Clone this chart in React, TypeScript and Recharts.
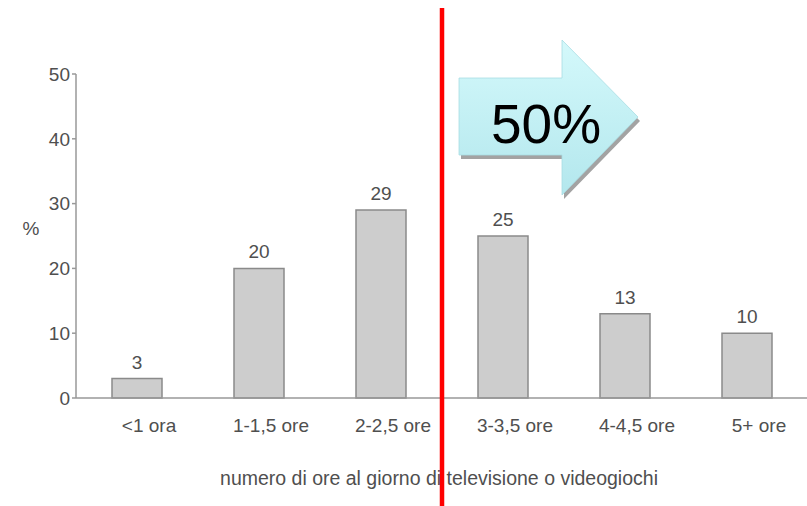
import React from 'react';
import { BarChart, Bar, XAxis, YAxis, LabelList } from 'recharts';

// Share of children by daily hours spent on television or video games
const categories = ['<1 ora', '1-1,5 ore', '2-2,5 ore', '3-3,5 ore', '4-4,5 ore', '5+ ore'];
const percentages = [3, 20, 29, 25, 13, 10];
const yTicks = [0, 10, 20, 30, 40, 50];
const xTitle = 'numero di ore al giorno di televisione o videogiochi';
const yTitle = '%';
const calloutText = '50%';

const data = categories.map((category, i) => ({ category, value: percentages[i] }));

const FONT = '"Liberation Sans", Arial, Helvetica, sans-serif';
const TEXT_GRAY = '#4f4f4f';
const AXIS_GRAY = '#999999';

const CategoryTick = (props: any) => {
  const { x, y, payload } = props;
  return (
    <text x={x + 12} y={y} dy={14} textAnchor="middle" fill={TEXT_GRAY} fontSize={19} fontFamily={FONT}>
      {payload.value}
    </text>
  );
};

const XTitle = (props: any) => {
  const vb = props.viewBox || {};
  return (
    <text x={vb.x + vb.width / 2 - 3} y={vb.y + vb.height + 57} textAnchor="middle" fill={TEXT_GRAY} fontSize={19.5} fontFamily={FONT}>
      {xTitle}
    </text>
  );
};

const YTitle = (props: any) => {
  const vb = props.viewBox || {};
  return (
    <text x={vb.x + 31} y={vb.y + vb.height / 2 - 1} textAnchor="middle" fill={TEXT_GRAY} fontSize={19} fontFamily={FONT}>
      {yTitle}
    </text>
  );
};

// Callout arrow and divider drawn on top of the chart
const Overlay = () => (
  <svg width={807} height={506} style={{ position: 'absolute', left: 0, top: 0, pointerEvents: 'none' }}>
    <defs>
      <linearGradient id="arrowFill" x1="0" y1="0" x2="0" y2="1">
        <stop offset="0%" stopColor="#d4f9fb" />
        <stop offset="100%" stopColor="#b3e7ed" />
      </linearGradient>
    </defs>
    <g transform="translate(2,4)">
      <polygon points="459,78 562,78 562,40 638,117 562,195 562,155 459,155" fill="#a3a3a3" />
    </g>
    <polygon
      points="459,78 562,78 562,40 638,117 562,195 562,155 459,155"
      fill="url(#arrowFill)"
      stroke="#a8dde3"
      strokeWidth={0.8}
    />
    <text x={546} y={143} textAnchor="middle" fontSize={55} fontFamily={FONT} fill="#000000">
      {calloutText}
    </text>
    <line x1={442} y1={8} x2={442} y2={506} stroke="#ff0000" strokeWidth={4.5} />
  </svg>
);

export default function App() {
  return (
    <div style={{ position: 'absolute', left: 0, top: 0, width: 807, height: 506, overflow: 'hidden', background: '#ffffff' }}>
      <BarChart
        width={812}
        height={506}
        data={data}
        margin={{ top: 74, right: 4, bottom: 78, left: 0 }}
        style={{ fontFamily: FONT }}
      >
        <YAxis
          width={76}
          domain={[0, 50]}
          ticks={yTicks}
          interval={0}
          axisLine={{ stroke: AXIS_GRAY, strokeWidth: 1.5 }}
          tickLine={{ stroke: AXIS_GRAY, strokeWidth: 1.5 }}
          tickSize={4}
          tickMargin={2}
          tick={{ fill: TEXT_GRAY, fontSize: 19, fontFamily: FONT }}
          label={<YTitle />}
        />
        <XAxis
          dataKey="category"
          height={30}
          interval={0}
          axisLine={{ stroke: AXIS_GRAY, strokeWidth: 1.5 }}
          tickLine={false}
          tickSize={0}
          tickMargin={20}
          tick={<CategoryTick />}
          label={<XTitle />}
        />
        <Bar dataKey="value" barSize={50} fill="#cdcdcd" stroke="#8a8a8a" strokeWidth={1.5} isAnimationActive={false}>
          <LabelList dataKey="value" position="top" offset={10} fill={TEXT_GRAY} fontSize={19} fontFamily={FONT} />
        </Bar>
      </BarChart>
      <Overlay />
    </div>
  );
}
